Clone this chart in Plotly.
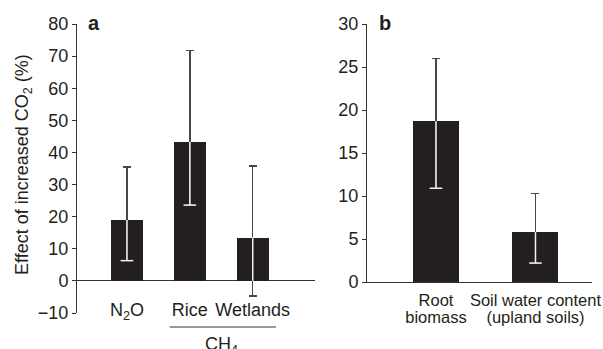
import plotly.graph_objects as go

# Panel a data
cats_a = ["N2O", "Rice", "Wetlands"]
labels_a = ["N<sub>2</sub>O", "Rice", "Wetlands"]
vals_a = [19.0, 43.3, 13.5]
hi_a = [35.5, 71.8, 35.8]
lo_a = [6.3, 23.6, -4.7]

# Panel b data
cats_b = ["Root", "Soil"]
labels_b_line1 = ["Root", "Soil water content"]
labels_b_line2 = ["biomass", "(upland soils)"]
vals_b = [18.7, 5.8]
hi_b = [26.0, 10.3]
lo_b = [10.9, 2.2]

ticks_a = list(range(-10, 81, 10))
ticks_b = list(range(0, 31, 5))

W, H = 603, 349
FONT = "Liberation Sans, Arial, Helvetica, sans-serif"
BAR = "#231f20"
ERR = "#474747"
AX = "#333333"
TXT = "#231f20"
FS = 18
FSB = 16.5

def px(x):
    return x / W

def py(y):
    return (H - y) / H

fig = go.Figure()

def add_panel(cats, vals, hi, lo, xa, ya, width):
    fig.add_trace(go.Bar(
        x=cats, y=vals, width=width, marker=dict(color=BAR, line=dict(width=0)),
        xaxis=xa, yaxis=ya, showlegend=False,
        error_y=dict(type="data", symmetric=False,
                     array=[h - v for h, v in zip(hi, vals)],
                     arrayminus=[v - l for v, l in zip(vals, lo)],
                     color=ERR, thickness=1.5, width=4),
    ))
    # white part of the error bar inside the bar
    fig.add_trace(go.Scatter(
        x=cats, y=vals, mode="markers",
        marker=dict(size=1, color="rgba(0,0,0,0)"),
        xaxis=xa, yaxis=ya, showlegend=False, hoverinfo="skip",
        error_y=dict(type="data", symmetric=False,
                     array=[0] * len(vals),
                     arrayminus=[v - max(l, 0) for v, l in zip(vals, lo)],
                     color="#f2f2f2", thickness=1.5, width=0),
    ))
    cx = [c for c, l in zip(cats, lo) if l > 0]
    cy = [l for l in lo if l > 0]
    fig.add_trace(go.Scatter(
        x=cx, y=cy, mode="markers",
        marker=dict(symbol="line-ew", size=9, line=dict(width=1.5, color="#f2f2f2")),
        xaxis=xa, yaxis=ya, showlegend=False, hoverinfo="skip",
    ))

add_panel(cats_a, vals_a, hi_a, lo_a, "x", "y", 0.51)
add_panel(cats_b, vals_b, hi_b, lo_b, "x2", "y2", 0.462)

tickfont = dict(family=FONT, size=FS, color=TXT)
tickfont_b = dict(family=FONT, size=FSB, color=TXT)

range_b = [-0.693, 1.568]

fig.update_layout(
    width=W, height=H,
    margin=dict(l=0, r=0, t=0, b=0, autoexpand=False),
    paper_bgcolor="white", plot_bgcolor="white",
    font=dict(family=FONT, size=FS, color=TXT),
    bargap=0,
    xaxis=dict(domain=[px(77), px(315)], anchor="free", position=py(297),
               type="category", range=[-0.794, 2.99], automargin=False,
               tickvals=cats_a, ticktext=labels_a, ticks="", tickangle=0,
               showline=False, showgrid=False, zeroline=False, tickfont=tickfont),
    yaxis=dict(domain=[py(313), py(24)], anchor="x", range=[-10, 80], automargin=False,
               tickvals=ticks_a, ticks="outside", ticklen=4, tickcolor=AX, tickwidth=1,
               showline=True, linecolor=AX, linewidth=1, showgrid=False,
               zeroline=True, zerolinecolor=AX, zerolinewidth=1, tickfont=tickfont),
    xaxis2=dict(domain=[px(367), px(592)], anchor="y2", automargin=False,
                type="category", range=range_b, tickangle=0,
                tickvals=cats_b, ticktext=labels_b_line1, ticks="",
                ticklabelstandoff=3,
                showline=True, linecolor=AX, linewidth=1, showgrid=False,
                zeroline=False, tickfont=tickfont_b),
    xaxis3=dict(domain=[px(367), px(592)], anchor="free", position=py(305),
                overlaying="x2", automargin=False,
                type="category", categoryorder="array", categoryarray=cats_b,
                range=range_b, tickangle=0,
                tickvals=cats_b, ticktext=labels_b_line2, ticks="",
                showline=False, showgrid=False, zeroline=False, tickfont=tickfont_b),
    yaxis2=dict(domain=[py(282), py(24)], anchor="x2", range=[0, 30], automargin=False,
                tickvals=ticks_b, ticks="outside", ticklen=4, tickcolor=AX, tickwidth=1,
                showline=True, linecolor=AX, linewidth=1, showgrid=False,
                zeroline=False, tickfont=tickfont),
)

# invisible trace so the second-line label axis is drawn
fig.add_trace(go.Scatter(x=cats_b, y=vals_b, xaxis="x3", yaxis="y2", mode="markers",
                         marker=dict(size=1, color="rgba(0,0,0,0)"),
                         showlegend=False, hoverinfo="skip"))

# CH4 bracket under Rice and Wetlands
fig.add_shape(type="line", xref="x", yref="paper", x0=0.68, x1=2.37,
              y0=py(327), y1=py(327), line=dict(color=AX, width=1))
fig.add_annotation(text="CH<sub>4</sub>", xref="x", yref="paper", x=1.5, y=py(332),
                   yanchor="top", showarrow=False, font=tickfont)

# Panel letters
fig.add_annotation(text="<b>a</b>", xref="paper", yref="paper", x=px(86), y=py(23),
                   xanchor="left", yanchor="middle", showarrow=False,
                   font=dict(family=FONT, size=20, color=TXT))
fig.add_annotation(text="<b>b</b>", xref="paper", yref="paper", x=px(377), y=py(23),
                   xanchor="left", yanchor="middle", showarrow=False,
                   font=dict(family=FONT, size=20, color=TXT))

# Y axis title
fig.add_annotation(text="Effect of increased CO<sub>2</sub> (%)", xref="paper", yref="paper",
                   x=px(23), y=py(165), textangle=-90, showarrow=False,
                   xanchor="center", yanchor="middle", font=tickfont)

fig.write_html("out.html", config={"displayModeBar": False},
               post_script="document.body.style.margin='0';document.body.style.overflow='hidden';")
